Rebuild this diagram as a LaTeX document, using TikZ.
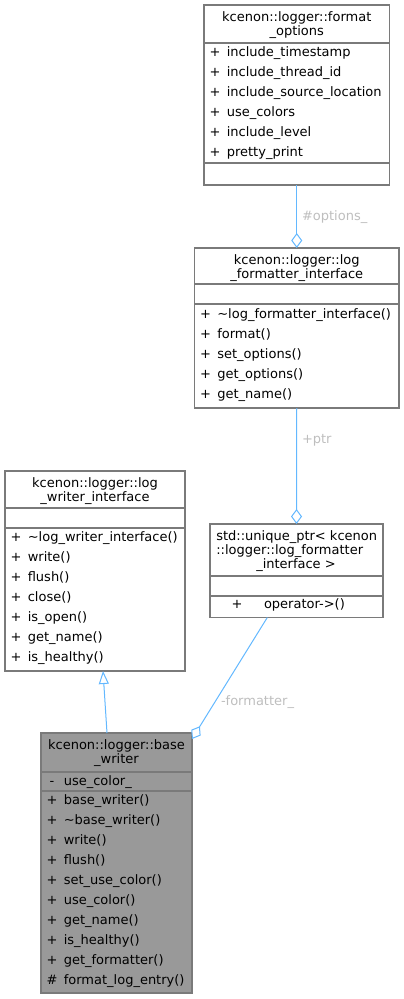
\documentclass[tikz,border=0pt]{standalone}
\usepackage{fontspec}
\setmainfont{DejaVu Sans}
\usetikzlibrary{arrows.meta,calc}
\definecolor{edgeblue}{HTML}{63B8FF}
\definecolor{lblgray}{HTML}{BEBEBE}
\definecolor{bordergray}{HTML}{7A7A7A}
\definecolor{curfill}{HTML}{999999}
\tikzset{
  box/.style={draw=bordergray, line width=1.3pt, fill=white, rectangle, inner sep=0pt, outer sep=0pt, anchor=north west},
  curbox/.style={box, fill=curfill},
  sepline/.style={draw=bordergray, line width=1.3pt},
  txt/.style={inner sep=0pt, outer sep=0pt, font=\fontsize{13}{15}\selectfont, text=black},
  lbl/.style={txt, text=lblgray},
  edge/.style={draw=edgeblue, line width=1pt},
  agg/.style={edge, -{Diamond[fill=white, length=15pt, width=11pt]}},
  inh/.style={edge, -{Triangle[fill=white, length=13pt, width=10pt]}}
}
\newcommand\mrow[5]{%
  \node[txt, anchor=base] (#1s) at (#2+11,#3) {#4};
  \node[txt, anchor=base west] (#1) at (#2+22.8,#3) {#5};}
\begin{document}
\begin{tikzpicture}[x=1pt,y=-1pt]
\useasboundingbox (0,0) rectangle (404,999);
% ---------- format_options ----------
\node[box, minimum width=185.5pt, minimum height=180pt] (fo) at (204,5) {};
\draw[sepline] (204,43) -- (389.5,43);
\draw[sepline] (204,163) -- (389.5,163);
\node[txt, anchor=base] (fot1) at (296.75,21.5) {kcenon::logger::format};
\node[txt, anchor=base] (fot2) at (296.75,35.5) {\_options};
\mrow{foa}{204}{56.5}{+}{include\_timestamp}
\mrow{fob}{204}{76.5}{+}{include\_thread\_id}
\mrow{foc}{204}{96.5}{+}{include\_source\_location}
\mrow{fod}{204}{116.5}{+}{use\_colors}
\mrow{foe}{204}{136.5}{+}{include\_level}
\mrow{fof}{204}{156.5}{+}{pretty\_print}
% ---------- log_formatter_interface ----------
\node[box, minimum width=204.5pt, minimum height=160pt] (lfi) at (194.5,248) {};
\draw[sepline] (194.5,284) -- (399,284);
\draw[sepline] (194.5,304) -- (399,304);
\node[txt, anchor=base] (lfit1) at (296.75,264.5) {kcenon::logger::log};
\node[txt, anchor=base] (lfit2) at (296.75,278.5) {\_formatter\_interface};
\mrow{lfia}{194.5}{318.5}{+}{\textasciitilde log\_formatter\_interface()}
\mrow{lfib}{194.5}{338.5}{+}{format()}
\mrow{lfic}{194.5}{358.5}{+}{set\_options()}
\mrow{lfid}{194.5}{378.5}{+}{get\_options()}
\mrow{lfie}{194.5}{398.5}{+}{get\_name()}
% ---------- unique_ptr ----------
\node[box, minimum width=173pt, minimum height=93.5pt] (up) at (210,524) {};
\draw[sepline] (210,576) -- (383,576);
\draw[sepline] (210,596) -- (383,596);
\node[txt, anchor=base west] (upt1) at (216.3,540.5) {std::unique\_ptr< kcenon};
\node[txt, anchor=base west] (upt2) at (216.3,554.5) {::logger::log\_formatter};
\node[txt, anchor=base] (upt3) at (296,568.5) {\_interface >};
\node[txt, anchor=base] (upas) at (237,608.5) {+};
\node[txt, anchor=base west] (upa) at (264,608.5) {operator->()};
% ---------- log_writer_interface ----------
\node[box, minimum width=180pt, minimum height=200pt] (lwi) at (5,471) {};
\draw[sepline] (5,508) -- (185,508);
\draw[sepline] (5,528) -- (185,528);
\node[txt, anchor=base] (lwit1) at (95,487) {kcenon::logger::log};
\node[txt, anchor=base] (lwit2) at (95,501) {\_writer\_interface};
\mrow{lwia}{5}{541.5}{+}{\textasciitilde log\_writer\_interface()}
\mrow{lwib}{5}{561.5}{+}{write()}
\mrow{lwic}{5}{581.5}{+}{flush()}
\mrow{lwid}{5}{601.5}{+}{close()}
\mrow{lwie}{5}{621.5}{+}{is\_open()}
\mrow{lwif}{5}{641.5}{+}{get\_name()}
\mrow{lwig}{5}{661.5}{+}{is\_healthy()}
% ---------- base_writer ----------
\node[curbox, minimum width=151pt, minimum height=260pt] (bw) at (41,733) {};
\draw[sepline] (41,772) -- (192,772);
\draw[sepline] (41,791) -- (192,791);
\node[txt, anchor=base] (bwt1) at (116.5,749.5) {kcenon::logger::base};
\node[txt, anchor=base] (bwt2) at (116.5,763.5) {\_writer};
\mrow{bwx}{41}{785.5}{-}{use\_color\_}
\mrow{bwa}{41}{804.5}{+}{base\_writer()}
\mrow{bwb}{41}{824.5}{+}{\textasciitilde base\_writer()}
\mrow{bwc}{41}{844.5}{+}{write()}
\mrow{bwd}{41}{864.5}{+}{flush()}
\mrow{bwe}{41}{884.5}{+}{set\_use\_color()}
\mrow{bwf}{41}{904.5}{+}{use\_color()}
\mrow{bwg}{41}{924.5}{+}{get\_name()}
\mrow{bwh}{41}{944.5}{+}{is\_healthy()}
\mrow{bwi}{41}{964.5}{+}{get\_formatter()}
\mrow{bwj}{41}{984.5}{\#}{format\_log\_entry()}
% ---------- connectors ----------
\draw[agg] (fo.south) -- (lfi.north);
\node[lbl, anchor=base west] (l1) at (302,220) {\#options\_};
\draw[agg] (lfi.south) -- (up.north);
\node[lbl, anchor=base west] (l2) at (302,443) {+ptr};
\draw[agg] ($(up.south)+(-29.2,0)$) -- ($(bw.north east)+(0,6)$);
\node[lbl, anchor=base west] (l3) at (221,705) {-formatter\_};
\draw[inh] ($(bw.north)+(-9.5,0)$) -- ($(lwi.south)+(8,0)$);
\end{tikzpicture}
\end{document}
